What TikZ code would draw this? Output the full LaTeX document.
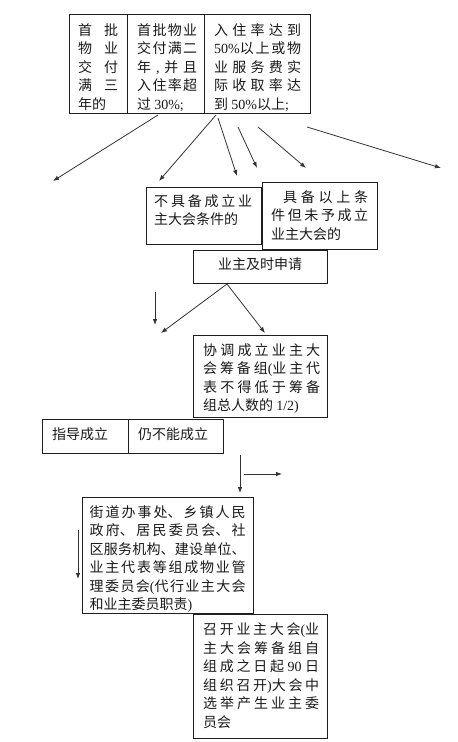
\documentclass[tikz,border=0pt]{standalone}
\usepackage{fontspec}
\setmainfont{Noto Sans CJK SC}
\newfontfamily\lat{Liberation Serif}
\usetikzlibrary{arrows.meta}
\XeTeXlinebreaklocale "zh"
\XeTeXlinebreakskip=0pt plus 10pt
\newcommand\gl{\hspace{0pt plus 10pt}}
\tikzset{
  box/.style={draw=black!88, line width=1pt, inner sep=0pt, anchor=north west},
  txt/.style={inner sep=0pt, anchor=north west, align=justify, text=black!90,
    font=\fontsize{14pt}{18.5pt}\selectfont},
  txtl/.style={inner sep=0pt, anchor=west, text=black!90, font=\fontsize{14pt}{18.5pt}\selectfont},
  arr/.style={draw=black!80, line width=0.8pt, -{Latex[length=6pt,width=4.5pt]}},
}
\begin{document}
\begin{tikzpicture}[x=1pt,y=-1pt]
\useasboundingbox (0,0) rectangle (458,742);
% boxes
\node[box, minimum width=58pt, minimum height=99pt] (b1) at (69,14) {};
\node[box, minimum width=77pt, minimum height=99pt] (b2) at (127,14) {};
\node[box, minimum width=106pt, minimum height=99pt] (b3) at (204,14) {};
\node[box, minimum width=115pt, minimum height=57pt] (c1) at (146,187) {};
\node[box, minimum width=115pt, minimum height=67pt] (c2) at (262,182) {};
\node[box, minimum width=134pt, minimum height=33pt] (d) at (193,250) {};
\node[box, minimum width=134pt, minimum height=82pt] (e) at (193,335) {};
\node[box, minimum width=86pt, minimum height=34pt] (f1) at (42,419) {};
\node[box, minimum width=95pt, minimum height=34pt] (f2) at (128,419) {};
\node[box, minimum width=171pt, minimum height=116pt] (g) at (82,497) {};
\node[box, minimum width=134pt, minimum height=124pt] (h) at (193,614) {};
% texts
\node[txt, text width=40pt] (tb1) at (78,23) {首批\linebreak 物业\linebreak 交付\linebreak 满三\linebreak 年的};
\node[txt, text width=60pt] (tb2) at (137,23) {首批物业\linebreak 交付满二\linebreak 年\gl{\lat ,}\gl 并且\linebreak 入住率超\linebreak 过 {\lat 30\%;}};
\node[txt, text width=87pt] (tb3) at (214,23) {入住率达到\linebreak {\lat 50\%}以上或物\linebreak 业服务费实\linebreak 际收取率达\linebreak 到 {\lat 50\%}以上{\lat ;}};
\node[txt, text width=98pt] (tc1) at (154,194) {不具备成立业\linebreak 主大会条件的};
\node[txt, text width=97pt] (tc2) at (271,190) {\hspace*{12pt}具备以上条\linebreak 件但未予成立\linebreak 业主大会的};
\node[txtl] (td) at (218,264) {业主及时申请};
\node[txt, text width=117pt] (te) at (203,343) {协调成立业主大\linebreak 会筹备组{\lat (}业主代\linebreak 表不得低于筹备\linebreak 组总人数的 {\lat 1/2)}};
\node[txtl] (tf1) at (52,434) {指导成立};
\node[txtl] (tf2) at (138,434) {仍不能成立};
\node[txt, text width=156pt] (tg) at (89.5,505) {街道办事处、乡镇人民\linebreak 政府、居民委员会、社\linebreak 区服务机构、建设单位、\linebreak 业主代表等组成物业管\linebreak 理委员会{\lat (}代行业主大会\linebreak 和业主委员职责{\lat )}};
\node[txt, text width=116pt] (th) at (203,623) {召开业主大会{\lat (}业\linebreak 主大会筹备组自\linebreak 组成之日起 {\lat 90} 日\linebreak 组织召开{\lat )}大会中\linebreak 选举产生业主委\linebreak 员会};
% arrow coordinates
\coordinate (a1s) at (158,115); \coordinate (a1e) at (53,181);
\coordinate (a2s) at (216,115); \coordinate (a2e) at (159,181);
\coordinate (a3s) at (218,118); \coordinate (a3e) at (237,176);
\coordinate (a4s) at (238,127); \coordinate (a4e) at (257,168);
\coordinate (a5s) at (258,127); \coordinate (a5e) at (306,168);
\coordinate (a6s) at (307,127); \coordinate (a6e) at (441,168);
\coordinate (ds) at (227,284); \coordinate (dl) at (161,333); \coordinate (dr) at (265,333);
\coordinate (vs1) at (155,292); \coordinate (ve1) at (155,325);
\coordinate (vs2) at (240,455); \coordinate (ve2) at (240,493);
\coordinate (hs) at (244,474); \coordinate (he) at (282,474);
\coordinate (vs3) at (78,530); \coordinate (ve3) at (78,579);
\draw[arr] (a1s) -- (a1e);
\draw[arr] (a2s) -- (a2e);
\draw[arr] (a3s) -- (a3e);
\draw[arr] (a4s) -- (a4e);
\draw[arr] (a5s) -- (a5e);
\draw[arr] (a6s) -- (a6e);
\draw[arr] (ds) -- (dl);
\draw[arr] (ds) -- (dr);
\draw[arr] (vs1) -- (ve1);
\draw[arr] (vs2) -- (ve2);
\draw[arr] (hs) -- (he);
\draw[arr] (vs3) -- (ve3);
\end{tikzpicture}
\end{document}
